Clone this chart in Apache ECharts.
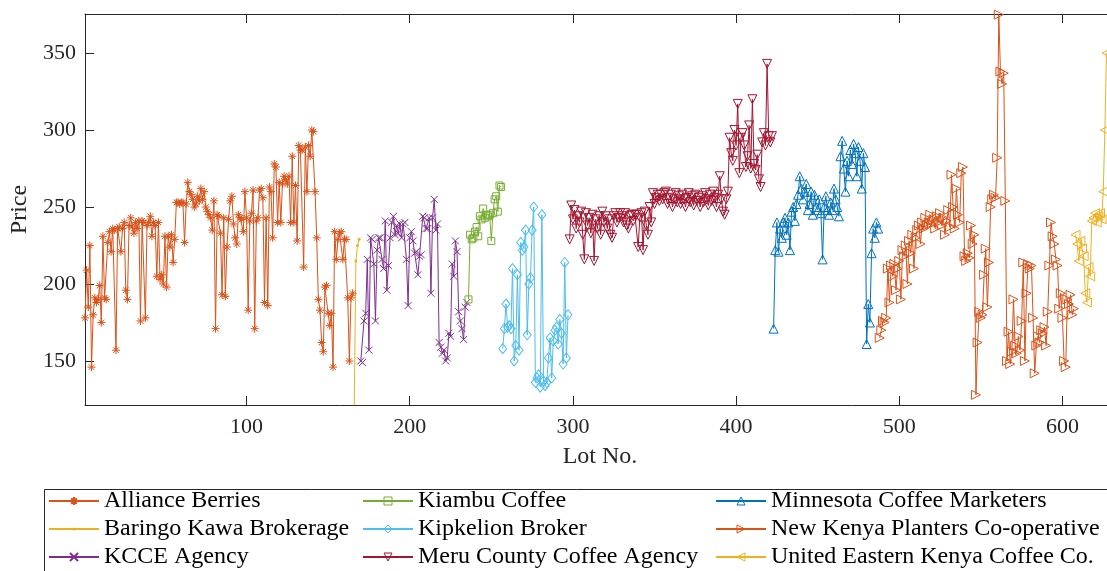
<!DOCTYPE html>
<html>
<head>
<meta charset="utf-8">
<title>Price by lot</title>
<script src="https://cdn.jsdelivr.net/npm/echarts@6.0.0/dist/echarts.min.js"></script>
<style>
html, body { margin: 0; padding: 0; background: #fff; }
#chart { width: 1107px; height: 571px; }
</style>
</head>
<body>
<div id="chart"></div>
<script>
// price of every lot, one array per broker, with the lot number of its first value
var alliance_berries_start = 1;
var alliance_berries = [178,209,185,225,146,180,191,188,190,199,
    175,231,191,190,227,234,221,236,235,157,
    236,237,221,236,240,196,190,238,243,237,
    233,240,236,241,176,241,240,178,238,240,
    244,231,240,238,205,240,203,206,200,231,
    198,231,224,232,214,229,253,253,252,253,
    253,227,252,266,260,258,255,250,252,257,
    254,262,255,260,250,247,245,243,235,254,
    171,245,244,233,193,243,192,224,242,254,
    257,239,230,226,245,243,242,234,260,243,
    183,241,246,261,171,241,243,261,262,256,
    188,243,186,263,260,230,278,276,240,266,
    240,265,270,268,265,270,240,283,240,264,
    228,290,287,287,211,289,260,290,283,300,
    299,260,230,190,183,162,156,198,199,181,
    173,181,146,234,216,229,233,234,216,229,
    229,191,150,191,194];

var baringo_kawa_start = 166;
var baringo_kawa = [121,215,225,229];

var kcce_agency_start = 170;
var kcce_agency = [150,149,176,181,216,157,230,229,213,176,
    222,230,230,216,210,241,196,212,230,240,
    244,232,238,233,239,230,239,240,216,186,
    230,234,228,220,221,206,218,219,244,243,
    236,236,243,194,243,255,235,239,162,159,
    155,157,150,152,168,166,213,205,228,221,
    182,176,171,164,185,188];

var kiambu_coffee_start = 236;
var kiambu_coffee = [190,232,229,230,234,237,231,244,242,249,243,245,244,245,228,246,255,257,247,264,263];

var kipkelion_broker_start = 257;
var kipkelion_broker = [158,171,187,172,173,171,210,150,160,206,157,227,222,224,235,167,200,204,235,250,
    136,139,141,133,245,137,134,136,152,165,139,163,170,172,161,177,168,148,214,152,180];

var meru_county_start = 298;
var meru_county = [229,251,242,248,236,244,240,247,232,216,
    246,238,243,233,245,215,242,236,244,232,
    247,240,244,236,242,232,230,244,246,240,
    243,246,244,240,246,238,236,244,245,241,
    245,245,224,243,246,222,247,238,232,250,
    240,259,252,256,258,254,258,255,259,260,
    252,256,258,250,255,259,253,257,252,258,
    255,250,256,259,253,257,251,258,254,256,
    250,257,253,259,255,251,258,254,260,256,
    250,258,270,255,247,245,255,260,295,285,
    280,300,290,317,272,295,298,290,276,283,
    303,275,320,278,274,284,268,263,292,298,
    290,343,296,292,296];

var minnesota_start = 423;
var minnesota = [171,222,240,221,236,230,240,243,232,240,
    222,247,250,241,252,258,270,262,255,260,
    265,248,252,260,245,258,250,248,255,246,
    216,250,257,248,245,253,248,262,255,250,
    244,283,293,275,260,280,270,287,278,291,
    285,270,289,280,262,285,276,161,187,175,
    220,236,230,240,236];

var new_kenya_start = 488;
var new_kenya = [165,170,176,175,178,210,188,212,205,213,
    196,210,215,190,222,218,225,200,228,220,
    232,210,230,235,238,226,240,236,243,238,
    240,245,239,242,236,244,240,246,238,243,
    232,241,248,237,271,250,236,262,245,240,
    272,276,218,215,220,217,238,226,232,128,
    162,182,178,180,206,223,185,214,250,255,
    258,256,282,375,338,330,337,254,150,169,
    148,156,190,160,155,166,157,176,214,150,
    194,213,210,212,178,142,160,166,162,170,
    168,172,160,182,212,240,231,226,216,212,
    184,194,178,150,146,190,187,193,180,184];

var united_eastern_start = 608;
var united_eastern = [232,226,215,228,223,218,194,188,211,205,241,243,246,240,244,246,242,260,300,350];

var x_ticks = [100, 200, 300, 400, 500, 600];
var y_ticks = [150, 200, 250, 300, 350];

var FONT = "Liberation Serif";
var AXIS_COLOR = "#262626";

// MATLAB style markers, drawn hollow
var SYM_STAR = 'path://M5,0L5,10M0,5L10,5M1.5,1.5L8.5,8.5M1.5,8.5L8.5,1.5';
var SYM_X = 'path://M0,0L10,10M0,10L10,0';
var SYM_SQUARE = 'path://M0,0L10,0L10,10L0,10Z';
var SYM_DOWN = 'path://M0,0L10,0L5,9Z';
var SYM_RIGHT = 'path://M0,0L9,5L0,10Z';
var SYM_LEFT = 'path://M9,0L0,5L9,10Z';

function lot_points(start, values){
    var points = [];
    for (var i = 0; i < values.length; i++) points.push([start + i, values[i]]);
    return points;
}

function make_series(name, start, values, color, symbol, size, filled){
    return {
        name: name,
        type: 'line',
        data: lot_points(start, values),
        symbol: symbol,
        symbolSize: size,
        showSymbol: true,
        showAllSymbol: true,
        lineStyle: {color: color, width: 1},
        itemStyle: filled ? {color: color} : {color: 'none', borderColor: color, borderWidth: 1},
        emphasis: {disabled: true}
    };
}

// legend symbol size is 0.8 of item height
function make_legend(left, top, names, hollow, item_height){
    var legend = {
        left: left, top: top, orient: 'vertical', padding: 0,
        itemWidth: 50, itemHeight: item_height || 10, itemGap: 0,
        selectedMode: false,
        data: names,
        textStyle: {fontFamily: FONT, fontSize: 24, color: '#000', lineHeight: 28}
    };
    if (hollow) legend.itemStyle = {color: 'none', borderWidth: 1};
    return legend;
}

function x_axis(position, show_labels){
    return {
        type: 'value', position: position, min: 1, max: 627.3,
        name: show_labels ? 'Lot No.' : '',
        nameLocation: 'middle', nameGap: 40,
        nameTextStyle: {fontFamily: FONT, fontSize: 24, color: AXIS_COLOR, padding: [0, 0, 0, 8]},
        axisLine: {show: true, onZero: false, lineStyle: {color: AXIS_COLOR, width: 1}},
        axisTick: {show: true, inside: true, length: 9, customValues: x_ticks, lineStyle: {color: AXIS_COLOR}},
        axisLabel: {show: show_labels, customValues: x_ticks, margin: 11,
            fontFamily: FONT, fontSize: 22, color: AXIS_COLOR},
        splitLine: {show: false}
    };
}

var chart = echarts.init(document.getElementById('chart'), null, {renderer: 'canvas'});

var option = {
    animation: false,
    backgroundColor: '#fff',
    grid: {left: 85, top: 14, bottom: 166, right: 0, containLabel: false},
    xAxis: [x_axis('bottom', true), x_axis('top', false)],
    yAxis: {
        type: 'value', min: 121.4, max: 375.4,
        name: 'Price', nameLocation: 'middle', nameGap: 52,
        nameTextStyle: {fontFamily: FONT, fontSize: 24, color: AXIS_COLOR},
        axisLine: {show: true, lineStyle: {color: AXIS_COLOR, width: 1}},
        axisTick: {show: true, inside: true, length: 9, customValues: y_ticks, lineStyle: {color: AXIS_COLOR}},
        axisLabel: {customValues: y_ticks, margin: 9, fontFamily: FONT, fontSize: 22, color: AXIS_COLOR},
        splitLine: {show: false}
    },
    legend: [
        make_legend(48, 487, ['Alliance Berries'], false),
        make_legend(48, 515, ['Baringo Kawa Brokerage'], false, 4),
        make_legend(48, 543, ['KCCE Agency'], false),
        make_legend(362, 487, ['Kiambu Coffee', 'Kipkelion Broker', 'Meru County Coffee Agency'], true),
        make_legend(715, 487, ['Minnesota Coffee Marketers', 'New Kenya Planters Co-operative', 'United Eastern Kenya Coffee Co.'], true)
    ],
    graphic: [{
        type: 'rect', left: 42, top: 487,
        shape: {x: 0, y: 0, width: 1100, height: 200},
        style: {fill: 'none', stroke: AXIS_COLOR, lineWidth: 1},
        z: -1
    }],
    series: [
        make_series('Alliance Berries', alliance_berries_start, alliance_berries, '#D95319', SYM_STAR, 8),
        make_series('Baringo Kawa Brokerage', baringo_kawa_start, baringo_kawa, '#EDB120', 'circle', 3, true),
        make_series('KCCE Agency', kcce_agency_start, kcce_agency, '#7E2F8E', SYM_X, 7),
        make_series('Kiambu Coffee', kiambu_coffee_start, kiambu_coffee, '#77AC30', SYM_SQUARE, 7),
        make_series('Kipkelion Broker', kipkelion_broker_start, kipkelion_broker, '#4DBEEE', 'diamond', [8, 10]),
        make_series('Meru County Coffee Agency', meru_county_start, meru_county, '#A2142F', SYM_DOWN, 9),
        make_series('Minnesota Coffee Marketers', minnesota_start, minnesota, '#0072BD', 'triangle', 9),
        make_series('New Kenya Planters Co-operative', new_kenya_start, new_kenya, '#D95319', SYM_RIGHT, 9),
        make_series('United Eastern Kenya Coffee Co.', united_eastern_start, united_eastern, '#EDB120', SYM_LEFT, 9)
    ]
};

chart.setOption(option);
</script>
</body>
</html>
